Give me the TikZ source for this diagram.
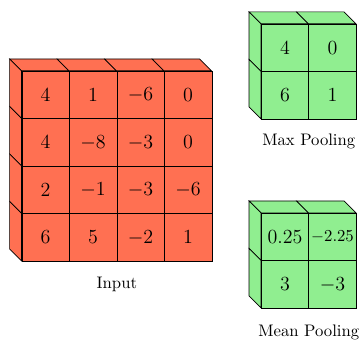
\documentclass[tikz,border=0pt]{standalone}
\usepackage{tikz}
\usepackage{amsmath,amsfonts}
\definecolor{rouge}{RGB}{255,112,82}
\definecolor{vert}{RGB}{144,238,144}
\newcommand{\prof}[0]{0.25}
\newcommand{\carre}[4]{\node[cellule, fill=#3] (#1) at (#2) {#4}}
\newcommand{\dessus}[2]{\draw[fill=#2] (#1.north west) --++ (-\prof,\prof) --++ (1,0) --++ (\prof,-\prof) -- cycle}
\newcommand{\cote}[2]{\draw[fill=#2] (#1.north west) --++ (-\prof,\prof) --++ (0,-1) --++ (\prof,-\prof) -- cycle}

\begin{document}
\begin{tikzpicture}[cellule/.style={draw, minimum size=1cm, inner sep=0pt, font=\large}]
\useasboundingbox (0,0) rectangle (7.6,7.158);
%Input
	\carre{e11}{0.96,5.16}{rouge}{$4$};
	\carre{e12}{1.96,5.16}{rouge}{$1$};
	\carre{e13}{2.96,5.16}{rouge}{$-6$};
	\carre{e14}{3.96,5.16}{rouge}{$0$};
	\carre{e21}{0.96,4.16}{rouge}{$4$};
	\carre{e22}{1.96,4.16}{rouge}{$-8$};
	\carre{e23}{2.96,4.16}{rouge}{$-3$};
	\carre{e24}{3.96,4.16}{rouge}{$0$};
	\carre{e31}{0.96,3.16}{rouge}{$2$};
	\carre{e32}{1.96,3.16}{rouge}{$-1$};
	\carre{e33}{2.96,3.16}{rouge}{$-3$};
	\carre{e34}{3.96,3.16}{rouge}{$-6$};
	\carre{e41}{0.96,2.16}{rouge}{$6$};
	\carre{e42}{1.96,2.16}{rouge}{$5$};
	\carre{e43}{2.96,2.16}{rouge}{$-2$};
	\carre{e44}{3.96,2.16}{rouge}{$1$};
	\foreach \j in {1,...,4} {\dessus{e1\j}{rouge};}
	\foreach \i in {1,...,4} {\cote{e\i1}{rouge};}
	\node (lblin) at (2.46,1.18) {Input};
%Max pooling
	\carre{x11}{6.0,6.15}{vert}{$4$};
	\carre{x12}{7.0,6.15}{vert}{$0$};
	\carre{x21}{6.0,5.15}{vert}{$6$};
	\carre{x22}{7.0,5.15}{vert}{$1$};
	\foreach \j in {1,2} {\dessus{x1\j}{vert};}
	\foreach \i in {1,2} {\cote{x\i1}{vert};}
	\node (lblmax) at (6.5,4.17) {Max Pooling};
%Mean pooling
	\carre{m11}{6.0,2.17}{vert}{$0.25$};
	\carre{m12}{7.0,2.17}{vert}{\normalsize$-2.25$};
	\carre{m21}{6.0,1.17}{vert}{$3$};
	\carre{m22}{7.0,1.17}{vert}{$-3$};
	\foreach \j in {1,2} {\dessus{m1\j}{vert};}
	\foreach \i in {1,2} {\cote{m\i1}{vert};}
	\node (lblmean) at (6.5,0.17) {Mean Pooling};
\end{tikzpicture}
\end{document}
